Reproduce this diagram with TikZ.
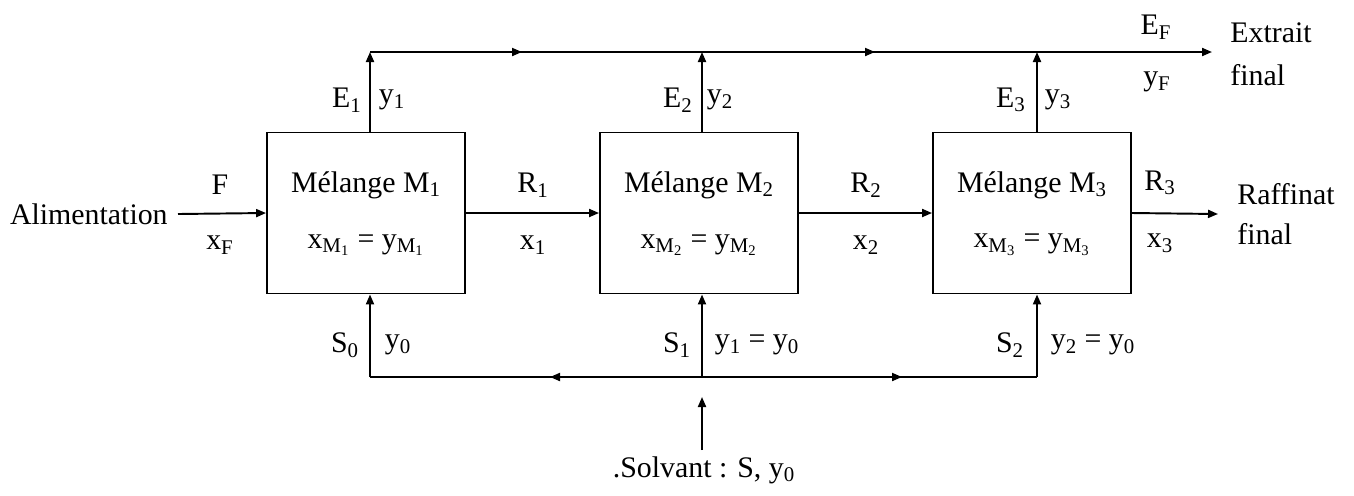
\documentclass[tikz,border=0pt]{standalone}
\usepackage{fontspec}
\setmainfont{Liberation Serif}
\usetikzlibrary{arrows.meta, positioning}

\begin{document}
\begin{tikzpicture}[x=0.02cm, y=-0.02cm,
  every node/.style={font=\fontsize{17}{20}\selectfont, inner sep=0pt},
  flux/.style={line width=1.1pt},
  fl/.style={flux, -{Triangle[length=0.2cm, width=0.16cm]}},
  mixbox/.style={draw, line width=1.1pt, minimum width=3.96cm, minimum height=3.22cm}]
\useasboundingbox (0,0) rectangle (1354,495);
% Mixer boxes
\node[mixbox] (m1) at (366,213) {};
\node[mixbox] (m2) at (699,213) {};
\node[mixbox] (m3) at (1032,213) {};
\node at (366,185) {Mélange M\textsubscript{1}};
\node at (366,245) {x\textsubscript{M\textsubscript{1}} = y\textsubscript{M\textsubscript{1}}};
\node at (699,185) {Mélange M\textsubscript{2}};
\node at (699,245) {x\textsubscript{M\textsubscript{2}} = y\textsubscript{M\textsubscript{2}}};
\node at (1032,185) {Mélange M\textsubscript{3}};
\node at (1032,245) {x\textsubscript{M\textsubscript{3}} = y\textsubscript{M\textsubscript{3}}};
% Feed and raffinate
\node[anchor=east] (feed) at (168,214) {Alimentation};
\draw[fl] (feed.east) ++(10,0) -- (m1.west);
\node at (220,185) {F};
\node at (220,245) {x\textsubscript{F}};
\draw[fl] (m1.east) -- (m2.west);
\node at (533,185) {R\textsubscript{1}};
\node at (533,245) {x\textsubscript{1}};
\draw[fl] (m2.east) -- (m3.west);
\node at (866,185) {R\textsubscript{2}};
\node at (866,245) {x\textsubscript{2}};
\coordinate (rout) at (1218,214);
\draw[fl] (m3.east) -- (rout);
\node at (1160,183) {R\textsubscript{3}};
\node at (1160,243) {x\textsubscript{3}};
\node[anchor=west] at (1237,194) {Raffinat};
\node[anchor=west] at (1237,234) {final};
% Extract line (top)
\coordinate (e1) at (370,52);
\coordinate (e2) at (702,52);
\coordinate (e3) at (1037,52);
\coordinate (eout) at (1212,52);
\draw[fl] (m1.north -| e1) -- (e1);
\draw[fl] (m2.north -| e2) -- (e2);
\draw[fl] (m3.north -| e3) -- (e3);
\draw[fl] (e1) -- (522,52);
\draw[fl] (520,52) -- (875,52);
\draw[fl] (873,52) -- (eout);
\node at (347,100) {E\textsubscript{1}};
\node at (392,100) {y\textsubscript{1}};
\node at (678,100) {E\textsubscript{2}};
\node at (720,100) {y\textsubscript{2}};
\node at (1011,100) {E\textsubscript{3}};
\node at (1058,100) {y\textsubscript{3}};
\node at (1156,27) {E\textsubscript{F}};
\node at (1157,82) {y\textsubscript{F}};
\node[anchor=west] at (1230,33) {Extrait};
\node[anchor=west] at (1230,75) {final};
% Solvent line (bottom)
\coordinate (s0) at (370,377);
\coordinate (s1) at (702,377);
\coordinate (s2) at (1037,377);
\node (solv) at (704,470) {.Solvant : S, y\textsubscript{0}};
\draw[fl] (702,450) -- (702,397);
\draw[fl] (s1) -- (550,377);
\draw[flux] (552,377) -- (s0);
\draw[fl] (s0) -- (m1.south -| s0);
\draw[fl] (s1) -- (m2.south -| s1);
\draw[fl] (s1) -- (902,377);
\draw[flux] (900,377) -- (s2);
\draw[fl] (s2) -- (m3.south -| s2);
\node at (345,345) {S\textsubscript{0}};
\node at (398,345) {y\textsubscript{0}};
\node at (677,345) {S\textsubscript{1}};
\node at (757,345) {y\textsubscript{1} = y\textsubscript{0}};
\node at (1010,345) {S\textsubscript{2}};
\node at (1093,345) {y\textsubscript{2} = y\textsubscript{0}};
\end{tikzpicture}
\end{document}
